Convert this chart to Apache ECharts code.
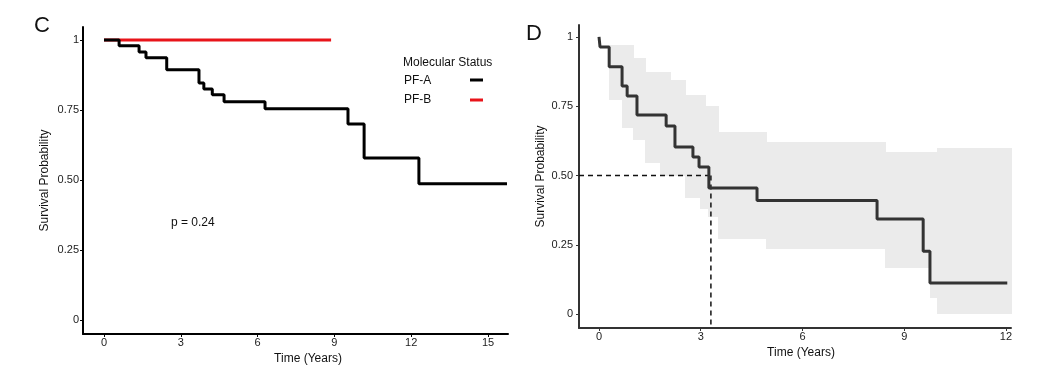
<!DOCTYPE html>
<html>
<head>
<meta charset="utf-8">
<title>Survival curves</title>
<script src="https://cdn.jsdelivr.net/npm/echarts@6/dist/echarts.min.js"></script>
</head>
<body style="margin:0;background:#fff">
<div id="main" style="width:1057px;height:376px;"></div>
<script type="text/javascript">
// panel C - survival by molecular status (time in years, survival probability)
var pfATimes = [0, 0.59, 1.37, 1.64, 2.45, 3.71, 3.9, 4.23, 4.69, 6.29, 9.53, 10.16, 12.3, 15.74];
var pfASurv  = [1, 0.979, 0.957, 0.936, 0.893, 0.846, 0.825, 0.804, 0.779, 0.754, 0.70, 0.578, 0.486, 0.486];
var pfBTimes = [0, 8.87];
var pfBSurv  = [1, 1];
var pValueText = 'p = 0.24';

// panel D - overall curve with confidence band and median
var dTimes = [0, 0.03, 0.3, 0.68, 0.83, 1.12, 1.98, 2.24, 2.77, 2.95, 3.24, 4.66, 8.2, 9.56, 9.76, 12.04];
var dSurv  = [1, 0.964, 0.892, 0.823, 0.787, 0.718, 0.679, 0.603, 0.567, 0.531, 0.455, 0.41, 0.343, 0.227, 0.112, 0.112];
var bandTimes = [0.3, 0.68, 1.0, 1.36, 1.8, 2.09, 2.54, 2.98, 3.13, 3.22, 3.51, 4.93, 8.44, 9.76, 9.97, 12.15];
var bandUpper = [0.97, 0.97, 0.924, 0.874, 0.874, 0.845, 0.79, 0.79, 0.75, 0.75, 0.657, 0.621, 0.585, 0.585, 0.60, 0.60];
var bandLower = [0.773, 0.671, 0.628, 0.545, 0.50, 0.50, 0.42, 0.38, 0.38, 0.35, 0.27, 0.235, 0.166, 0.06, 0, 0];
var medianTime = 3.3;
var medianSurv = 0.5;

// tick labels
var cXTicks = [0, 3, 6, 9, 12, 15];
var dXTicks = [0, 3, 6, 9, 12];
var yTicks = [0, 0.25, 0.5, 0.75, 1];

function pairs(xs, ys) {
    return xs.map(function (x, i) { return [x, ys[i]]; });
}

// one rectangle per step of the band: [t start, t end, lower, upper]
var bandRects = [];
for (var i = 0; i < bandTimes.length - 1; i++) {
    bandRects.push([bandTimes[i], bandTimes[i + 1], bandLower[i], bandUpper[i]]);
}

var labelFont = { fontFamily: 'Liberation Sans', fontSize: 11, color: '#222' };
var titleFont = { fontFamily: 'Liberation Sans', fontSize: 12, color: '#111' };

function yFmt(v) {
    if (v === 0) return '0';
    if (v === 1) return '1';
    return v.toFixed(2);
}

function xAxisOf(idx, min, max, ticks, lineColor, pad) {
    return {
        type: 'value', gridIndex: idx, min: min, max: max,
        name: 'Time (Years)', nameLocation: 'middle', nameGap: 13,
        nameTextStyle: Object.assign({ padding: pad }, titleFont),
        axisLine: { onZero: false, lineStyle: { color: lineColor, width: 2 } },
        axisTick: { show: true, length: 3, customValues: ticks, lineStyle: { color: lineColor } },
        axisLabel: Object.assign({ margin: 3, customValues: ticks }, labelFont),
        splitLine: { show: false }
    };
}

function yAxisOf(idx, min, max, lineColor, margin) {
    return {
        type: 'value', gridIndex: idx, min: min, max: max,
        name: 'Survival Probability', nameLocation: 'middle', nameGap: 32,
        nameTextStyle: titleFont,
        axisLine: { show: true, onZero: false, lineStyle: { color: lineColor, width: 2 } },
        axisTick: { show: true, length: 3, customValues: yTicks, lineStyle: { color: lineColor } },
        axisLabel: Object.assign({ margin: margin, customValues: yTicks, formatter: yFmt }, labelFont),
        splitLine: { show: false }
    };
}

var myChart = echarts.init(document.getElementById('main'));

var option = {
    backgroundColor: '#fff',
    animation: false,
    grid: [
        { left: 83, top: 27, width: 425, height: 307 },
        { left: 579, top: 25, width: 432, height: 303 }
    ],
    xAxis: [
        xAxisOf(0, -0.82, 15.78, cXTicks, '#000', [0, 0, 0, 25]),
        xAxisOf(1, -0.59, 12.15, dXTicks, '#333', [0, 0, 0, 12])
    ],
    yAxis: [
        yAxisOf(0, -0.05, 1.046, '#000', 4),
        yAxisOf(1, -0.05, 1.043, '#333', 6)
    ],
    series: [
        {
            name: 'PF-B', type: 'line', xAxisIndex: 0, yAxisIndex: 0,
            data: pairs(pfBTimes, pfBSurv), step: 'end', showSymbol: false, z: 3,
            lineStyle: { color: '#e8141a', width: 3 }
        },
        {
            name: 'PF-A', type: 'line', xAxisIndex: 0, yAxisIndex: 0,
            data: pairs(pfATimes, pfASurv), step: 'end', showSymbol: false, z: 4,
            lineStyle: { color: '#000', width: 3 }
        },
        // confidence band as step rectangles
        {
            type: 'custom', xAxisIndex: 1, yAxisIndex: 1, z: 1,
            data: bandRects,
            encode: { x: [0, 1], y: [2, 3] },
            renderItem: function (params, api) {
                var p0 = api.coord([api.value(0), api.value(3)]);
                var p1 = api.coord([api.value(1), api.value(2)]);
                var x0 = Math.round(p0[0]), x1 = Math.round(p1[0]);
                var y0 = Math.round(p0[1]), y1 = Math.round(p1[1]);
                return {
                    type: 'rect',
                    shape: { x: x0, y: y0, width: x1 - x0 + 1, height: y1 - y0 },
                    style: { fill: '#ebebeb' }
                };
            }
        },
        {
            type: 'line', xAxisIndex: 1, yAxisIndex: 1,
            data: pairs(dTimes, dSurv), step: 'end', showSymbol: false, z: 4,
            lineStyle: { color: '#333', width: 3 }
        },
        // median lines
        {
            type: 'line', xAxisIndex: 1, yAxisIndex: 1,
            data: [[-0.59, medianSurv], [medianTime, medianSurv]], showSymbol: false, z: 3,
            lineStyle: { color: '#111', width: 1.5, type: [5, 4] }
        },
        {
            type: 'line', xAxisIndex: 1, yAxisIndex: 1,
            data: [[medianTime, medianSurv], [medianTime, -0.05]], showSymbol: false, z: 3,
            lineStyle: { color: '#111', width: 1.5, type: [5, 4] }
        }
    ],
    graphic: [
        { type: 'text', x: 34, y: 26, style: { text: 'C', font: '22px "Liberation Sans"', fill: '#111', verticalAlign: 'middle' } },
        { type: 'text', x: 526, y: 34, style: { text: 'D', font: '22px "Liberation Sans"', fill: '#111', verticalAlign: 'middle' } },
        { type: 'text', x: 171, y: 223, style: { text: pValueText, font: '12px "Liberation Sans"', fill: '#111', verticalAlign: 'middle' } },
        { type: 'text', x: 403, y: 63, style: { text: 'Molecular Status', font: '12px "Liberation Sans"', fill: '#111', verticalAlign: 'middle' } },
        { type: 'text', x: 404, y: 81, style: { text: 'PF-A', font: '12px "Liberation Sans"', fill: '#111', verticalAlign: 'middle' } },
        { type: 'text', x: 404, y: 100, style: { text: 'PF-B', font: '12px "Liberation Sans"', fill: '#111', verticalAlign: 'middle' } },
        { type: 'line', shape: { x1: 470, y1: 80, x2: 483, y2: 80 }, style: { stroke: '#000', lineWidth: 3 } },
        { type: 'line', shape: { x1: 470, y1: 100, x2: 483, y2: 100 }, style: { stroke: '#e8141a', lineWidth: 3 } }
    ]
};

myChart.setOption(option);
</script>
</body>
</html>
